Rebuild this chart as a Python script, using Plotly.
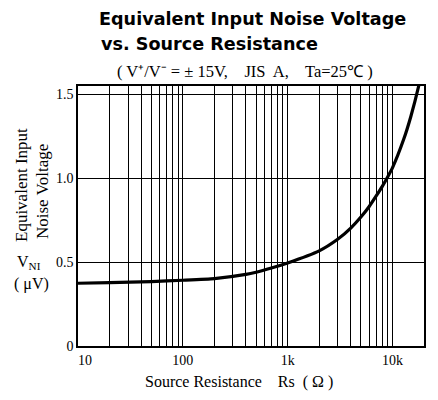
import plotly.graph_objects as go

# Data
rs_ohm = [10, 20, 50, 100, 200, 400, 500, 700, 1000, 2000, 3000, 4000,
          5000, 6000, 7000, 8000, 9000, 10000, 12800, 15000, 17800, 18500]
vni_uv = [0.374, 0.378, 0.384, 0.392, 0.402, 0.427, 0.440, 0.465, 0.495,
          0.567, 0.636, 0.703, 0.769, 0.832, 0.895, 0.952, 1.008, 1.062,
          1.232, 1.37, 1.55, 1.60]

x_major = [10, 100, 1000, 10000]
x_major_text = ["\u00a0\u00a0\u00a0\u00a010", "100", "1k", "10k"]
x_minor = [m * d for d in (10, 100, 1000) for m in range(2, 10)] + [20000]
y_ticks = [0, 0.5, 1.0, 1.5]
y_tick_text = ["0", "0.5", "1.0", "1.5"]

serif = "Liberation Serif, Times New Roman, serif"

fig = go.Figure()
fig.add_trace(go.Scatter(
    x=rs_ohm, y=vni_uv, mode="lines",
    line=dict(color="black", width=3.2, shape="spline", smoothing=0.5),
    showlegend=False, hoverinfo="skip"))

# page body offsets the figure by 8px; work in reference pixel coords
OFF = 8
W, H = 438 - OFF, 400 - OFF
L, T = 78 - OFF, 86 - OFF
R = W - (424 - OFF)
B = H - (346 - OFF)
pw = W - L - R
ph = H - T - B

def px(x):
    return (x - OFF - L) / pw

def py(y):
    return (H - B - (y - OFF)) / ph

fig.update_layout(
    width=W, height=H,
    margin=dict(l=L, r=R, t=T, b=B),
    paper_bgcolor="white", plot_bgcolor="white",
    font=dict(family=serif, size=13, color="black"),
    xaxis=dict(
        type="log", range=[1, 4.301],
        tickvals=x_major, ticktext=x_major_text,
        showgrid=True, gridcolor="black", gridwidth=1,
        minor=dict(tickvals=x_minor, showgrid=True, gridcolor="black",
                   gridwidth=1, ticks=""),
        showline=True, linecolor="black", linewidth=1.5, mirror=True,
        ticks="", zeroline=False,
        tickfont=dict(family=serif, size=14),
    ),
    yaxis=dict(
        range=[0, 1.55],
        tickvals=y_ticks, ticktext=y_tick_text,
        showgrid=True, gridcolor="black", gridwidth=1,
        showline=True, linecolor="black", linewidth=1.5, mirror=True,
        ticks="", zeroline=False,
        tickfont=dict(family=serif, size=14),
    ),
)

sans_bold = dict(family="DejaVu Sans, sans-serif", size=17.6, weight="bold")
ann = [
    dict(text="Equivalent Input Noise Voltage", x=px(97), y=py(19),
         xanchor="left", yanchor="middle", font=sans_bold),
    dict(text="vs. Source Resistance", x=px(99), y=py(44),
         xanchor="left", yanchor="middle", font=sans_bold),
    dict(text="( V⁺/V⁻ = ± 15V,    JIS  A,    Ta=25℃ )",
         x=px(245), y=py(71), xanchor="center", yanchor="middle",
         font=dict(family=serif, size=16.5)),
    dict(text="Equivalent Input", x=px(21), y=py(185), textangle=-90,
         xanchor="center", yanchor="middle", font=dict(family=serif, size=17)),
    dict(text="Noise Voltage", x=px(42), y=py(192), textangle=-90,
         xanchor="center", yanchor="middle", font=dict(family=serif, size=17)),
    dict(text="V<sub>NI</sub>", x=px(29), y=py(262),
         xanchor="center", yanchor="middle", font=dict(family=serif, size=16)),
    dict(text="( μV)", x=px(31), y=py(284),
         xanchor="center", yanchor="middle", font=dict(family=serif, size=16)),
    dict(text="Source Resistance    Rs  ( Ω )", x=px(239), y=py(382),
         xanchor="center", yanchor="middle", font=dict(family=serif, size=16)),
]
for a in ann:
    a.update(xref="paper", yref="paper", showarrow=False)
fig.update_layout(annotations=ann)

fig.write_html("out.html")
